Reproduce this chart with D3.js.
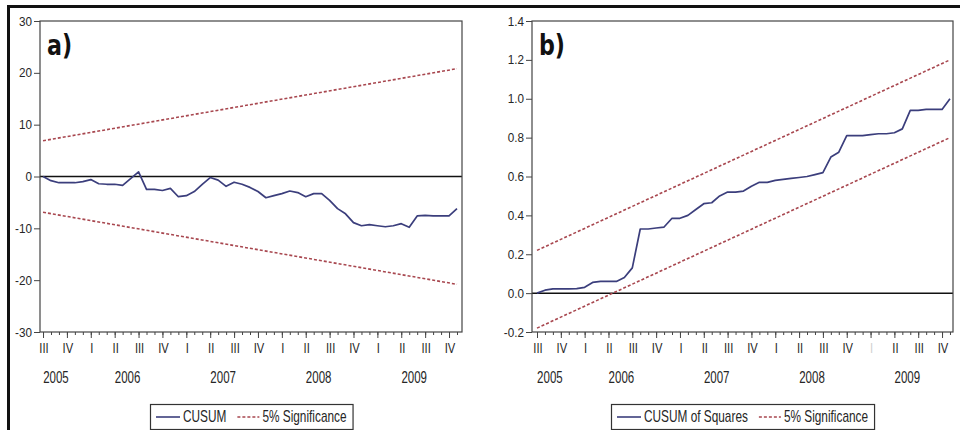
<!DOCTYPE html>
<html><head><meta charset="utf-8">
<script src="https://cdn.jsdelivr.net/npm/d3@7"></script>
<style>
body{margin:0;background:#fff;}
svg{display:block;}
text{font-family:"Liberation Sans",Arial,sans-serif;fill:#262626;}
</style></head><body>
<svg id="c" width="960" height="430"></svg>
<script>
// ---------- data ----------
const months = [
 "2005-08","2005-09","2005-10","2005-11","2005-12",
 "2006-01","2006-02","2006-03","2006-04","2006-05","2006-06","2006-07","2006-08","2006-09","2006-10","2006-11","2006-12",
 "2007-01","2007-02","2007-03","2007-04","2007-05","2007-06","2007-07","2007-08","2007-09","2007-10","2007-11","2007-12",
 "2008-01","2008-02","2008-03","2008-04","2008-05","2008-06","2008-07","2008-08","2008-09","2008-10","2008-11","2008-12",
 "2009-01","2009-02","2009-03","2009-04","2009-05","2009-06","2009-07","2009-08","2009-09","2009-10","2009-11","2009-12"];
const cusum = [0.0,-0.8,-1.2,-1.2,-1.2,-1.0,-0.6,-1.4,-1.5,-1.5,-1.7,-0.4,0.9,-2.5,-2.5,-2.7,-2.3,-3.9,-3.7,-2.9,-1.5,-0.2,-0.7,-1.9,-1.1,-1.5,-2.1,-2.9,-4.1,-3.7,-3.3,-2.8,-3.1,-3.9,-3.3,-3.3,-4.6,-6.2,-7.2,-8.9,-9.5,-9.3,-9.5,-9.7,-9.5,-9.1,-9.8,-7.6,-7.5,-7.6,-7.6,-7.6,-6.2];
const cusumUpper = [6.9, 20.8];    // first and last month
const cusumLower = [-6.9, -20.8];
const cusumSq = [0.00,0.015,0.022,0.022,0.022,0.023,0.03,0.055,0.06,0.06,0.06,0.08,0.13,0.33,0.33,0.335,0.34,0.385,0.385,0.40,0.43,0.46,0.465,0.50,0.52,0.52,0.525,0.55,0.57,0.57,0.58,0.585,0.59,0.595,0.60,0.61,0.62,0.70,0.725,0.81,0.81,0.81,0.815,0.82,0.82,0.825,0.845,0.94,0.94,0.945,0.945,0.945,1.00];
const sqUpper = [0.22, 1.20];
const sqLower = [-0.18, 0.80];
const quarterNames = ["I","II","III","IV"];
const cusumTicks = [-30,-20,-10,0,10,20,30];
const sqTicks = [-0.2,0.0,0.2,0.4,0.6,0.8,1.0,1.2,1.4];
const legendA = ["CUSUM","5% Significance"];
const legendB = ["CUSUM of Squares","5% Significance"];

// ---------- drawing ----------
const svg = d3.select("#c");
const BLUE = "#3b3e7c", RED = "#a8474f";
const TOP = 21, BOT = 332;
const hyph = f => v => f(v).replace("\u2212","-");

svg.append("path").attr("d","M8.5,430 V6.5 H960").attr("fill","none")
   .attr("stroke","#111").attr("stroke-width",3);

function txt(g, s, px, py, size, sx, anchor, weight, family, color){
  const t = g.append("text")
    .attr("transform",`translate(${px},${py}) scale(${sx},1)`)
    .attr("text-anchor",anchor).attr("dy","0.35em")
    .attr("font-size",size).text(s);
  if (weight) t.attr("font-weight",weight);
  if (family) t.style("font-family",family);
  if (color) t.style("fill",color);
  return t;
}

function panel(cfg){
  const n = months.length;
  const x = d3.scaleLinear().domain([-cfg.padL, n-1+cfg.padR]).range([cfg.x0, cfg.x1]);
  const y = d3.scaleLinear().domain(cfg.yDomain).range([BOT, TOP]);
  const g = svg.append("g");

  // y axis ticks
  const ya = g.append("g").attr("transform",`translate(${cfg.x0},0)`)
    .call(d3.axisLeft(y).tickValues(cfg.yTicks).tickSize(6).tickFormat(""));
  ya.select(".domain").remove();
  ya.selectAll("line").attr("stroke","#444");
  cfg.yTicks.forEach(v => txt(g, cfg.fmt(v), cfg.x0-8, y(v), 13, 0.9, "end"));

  // x axis ticks (monthly minor, quarter-mid major)
  const idx = d3.range(n);
  const xa = g.append("g").attr("transform",`translate(0,${BOT})`)
    .call(d3.axisBottom(x).tickValues(idx).tickSize(3).tickFormat(""));
  xa.select(".domain").remove();
  xa.selectAll("line").attr("stroke","#444");
  const mids = idx.filter(i => (+months[i].slice(5)) % 3 === 2);
  const xb = g.append("g").attr("transform",`translate(0,${BOT})`)
    .call(d3.axisBottom(x).tickValues(mids).tickSize(6).tickFormat(""));
  xb.select(".domain").remove();
  xb.selectAll("line").attr("stroke","#444");

  mids.forEach(i => {
    const m = +months[i].slice(5);
    const q = quarterNames[(m-2)/3];
    const faint = cfg.faint && cfg.faint.includes(months[i]);
    txt(g, q, x(i)+1, 348.5, 14, 0.8, "middle", null, null, faint ? "#d0d0d0" : null);
  });
  const years = Array.from(new Set(months.map(m => m.slice(0,4))));
  years.forEach(yr => {
    const ps = mids.filter(i => months[i].startsWith(yr)).map(i => x(i));
    txt(g, yr, (d3.min(ps)+d3.max(ps))/2 + 1, 377.5, 16, 0.72, "middle");
  });

  // zero line
  g.append("line").attr("x1",cfg.x0).attr("x2",cfg.x1).attr("y1",y(0)).attr("y2",y(0))
   .attr("stroke","#111").attr("stroke-width",1.5);

  // bounds
  const ends = [0, n-1];
  const bl = d3.line().x((d,i)=>x(ends[i])).y(d=>y(d));
  [cfg.upper, cfg.lower].forEach(b => g.append("path").attr("d", bl(b))
    .attr("fill","none").attr("stroke",RED).attr("stroke-width",1.6).attr("stroke-dasharray","3,2"));

  // series
  const sl = d3.line().x((d,i)=>x(i)).y(d=>y(d));
  g.append("path").attr("d", sl(cfg.series)).attr("fill","none")
   .attr("stroke",BLUE).attr("stroke-width",1.7).attr("stroke-linejoin","round");

  // frame
  g.append("rect").attr("x",cfg.x0).attr("y",TOP).attr("width",cfg.x1-cfg.x0).attr("height",BOT-TOP)
   .attr("fill","none").attr("stroke","#444").attr("stroke-width",1.2);

  // panel tag
  txt(g, cfg.tag, cfg.x0+7, 45, 29, 0.85, "start", "bold", "'DejaVu Sans Condensed','DejaVu Sans',sans-serif", "#111");

  // legend
  const lg = g.append("g");
  const t1 = txt(lg, cfg.legend[0], 0, 416.5, 16, 0.74, "start");
  const t2 = txt(lg, cfg.legend[1], 0, 416.5, 16, 0.74, "start");
  const w1 = t1.node().getComputedTextLength()*0.74;
  const w2 = t2.node().getComputedTextLength()*0.74;
  const pad=6, ls=24, gap=3, mid=11, ds=22;
  const bw = pad+ls+gap+w1+mid+ds+gap+w2+pad;
  const bx = Math.round((cfg.x0+cfg.x1)/2 - bw/2);
  lg.insert("rect",":first-child").attr("x",bx+0.5).attr("y",404.5).attr("width",bw).attr("height",25)
    .attr("fill","#fff").attr("stroke","#333").attr("stroke-width",1.2);
  lg.append("line").attr("x1",bx+pad).attr("x2",bx+pad+ls).attr("y1",417).attr("y2",417)
    .attr("stroke",BLUE).attr("stroke-width",1.6);
  t1.attr("transform",`translate(${bx+pad+ls+gap},416.5) scale(0.74,1)`);
  const dx = bx+pad+ls+gap+w1+mid;
  lg.append("line").attr("x1",dx).attr("x2",dx+ds).attr("y1",417).attr("y2",417)
    .attr("stroke",RED).attr("stroke-width",1.6).attr("stroke-dasharray","3,2");
  t2.attr("transform",`translate(${dx+ds+gap},416.5) scale(0.74,1)`);
}

panel({x0:40, x1:462, padL:0.38, padR:0.63, yDomain:[-30,30], yTicks:cusumTicks,
  fmt:hyph(d3.format("d")), series:cusum, upper:cusumUpper, lower:cusumLower, tag:"a)", legend:legendA});
panel({x0:532, x1:953, padL:0.63, padR:0.38, yDomain:[-0.2,1.4], yTicks:sqTicks,
  fmt:hyph(d3.format(".1f")), series:cusumSq, upper:sqUpper, lower:sqLower, tag:"b)", legend:legendB, faint:["2009-02"]});
</script>
</body></html>
